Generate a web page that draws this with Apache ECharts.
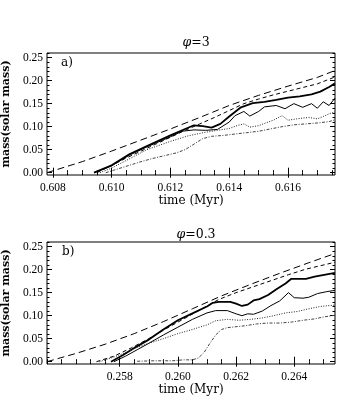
<!DOCTYPE html>
<html>
<head>
<meta charset="utf-8">
<script src="https://cdn.jsdelivr.net/npm/echarts@6/dist/echarts.min.js"></script>
<style>
  html, body { margin: 0; padding: 0; background: #fff; }
  #chart { width: 347px; height: 410px; }
</style>
</head>
<body>
<div id="chart"></div>
<script>
// panel a) phi=3 : [time (Myr), mass (solar mass)]
const aDashUpper = [[0.6078,0.000],[0.6090,0.024],[0.6100,0.047],[0.6110,0.071],[0.6120,0.095],[0.6130,0.120],[0.6140,0.146],[0.6150,0.168],[0.6160,0.188],[0.6170,0.207],[0.6176,0.222]];
const aDashLower = [[0.6095,0.000],[0.6100,0.016],[0.6105,0.032],[0.6110,0.047],[0.6115,0.062],[0.6120,0.077],[0.6125,0.092],[0.6130,0.106],[0.6135,0.120],[0.6140,0.135],[0.6145,0.150],[0.6150,0.160],[0.6155,0.169],[0.6160,0.177],[0.6165,0.185],[0.6170,0.193],[0.6176,0.208]];
const aSolidThick = [[0.6094,0.000],[0.6100,0.016],[0.6106,0.040],[0.6112,0.058],[0.6120,0.081],[0.6125,0.095],[0.6128,0.103],[0.6131,0.101],[0.6134,0.098],[0.6137,0.106],[0.6140,0.122],[0.6144,0.142],[0.6148,0.151],[0.6152,0.154],[0.6156,0.158],[0.6160,0.163],[0.6164,0.166],[0.6168,0.170],[0.6171,0.176],[0.6174,0.186],[0.6176,0.194]];
const aSolidThin = [[0.6094,0.000],[0.6100,0.015],[0.6106,0.038],[0.6112,0.056],[0.6120,0.078],[0.6124,0.090],[0.6128,0.093],[0.6132,0.092],[0.6136,0.094],[0.6140,0.110],[0.6142,0.124],[0.6145,0.133],[0.6147,0.123],[0.6150,0.133],[0.6152,0.143],[0.6156,0.146],[0.6159,0.139],[0.6162,0.150],[0.6165,0.142],[0.6168,0.150],[0.6170,0.140],[0.6172,0.154],[0.6174,0.146],[0.6176,0.162]];
const aDotUpper = [[0.6096,0.000],[0.6100,0.010],[0.6106,0.030],[0.6112,0.050],[0.6120,0.068],[0.6126,0.080],[0.6132,0.088],[0.6136,0.092],[0.6140,0.096],[0.6143,0.103],[0.6145,0.106],[0.6147,0.099],[0.6150,0.102],[0.6152,0.107],[0.6155,0.114],[0.6158,0.124],[0.6160,0.114],[0.6163,0.117],[0.6167,0.120],[0.6170,0.117],[0.6172,0.122],[0.6174,0.128],[0.6176,0.132]];
const aDotLower = [[0.6098,0.000],[0.6102,0.008],[0.6106,0.016],[0.6110,0.024],[0.6114,0.031],[0.6118,0.037],[0.6122,0.043],[0.6125,0.050],[0.6128,0.062],[0.6131,0.074],[0.6134,0.079],[0.6138,0.081],[0.6142,0.084],[0.6146,0.087],[0.6150,0.090],[0.6154,0.095],[0.6158,0.100],[0.6162,0.104],[0.6166,0.106],[0.6170,0.108],[0.6174,0.111],[0.6176,0.115]];

// panel b) phi=0.3
const bDashUpper = [[0.2555,0.000],[0.2565,0.018],[0.2575,0.038],[0.2585,0.061],[0.2595,0.087],[0.2605,0.115],[0.2615,0.143],[0.2625,0.168],[0.2635,0.192],[0.2645,0.215],[0.2654,0.235]];
const bDashLower = [[0.2572,0.000],[0.2578,0.012],[0.2584,0.030],[0.2590,0.050],[0.2596,0.072],[0.2602,0.093],[0.2608,0.114],[0.2614,0.135],[0.2620,0.150],[0.2626,0.163],[0.2632,0.176],[0.2638,0.189],[0.2644,0.201],[0.2654,0.216]];
const bSolidThick = [[0.2577,0.000],[0.2581,0.014],[0.2585,0.030],[0.2590,0.048],[0.2595,0.070],[0.2600,0.090],[0.2605,0.105],[0.2610,0.120],[0.2612,0.128],[0.2614,0.130],[0.2618,0.130],[0.2620,0.126],[0.2622,0.121],[0.2624,0.124],[0.2626,0.133],[0.2628,0.136],[0.2631,0.145],[0.2634,0.158],[0.2637,0.170],[0.2639,0.180],[0.2642,0.180],[0.2644,0.180],[0.2647,0.185],[0.2654,0.193]];
const bSolidThin = [[0.2578,0.000],[0.2582,0.012],[0.2586,0.026],[0.2590,0.040],[0.2595,0.058],[0.2600,0.075],[0.2605,0.092],[0.2610,0.106],[0.2613,0.111],[0.2617,0.111],[0.2620,0.104],[0.2622,0.100],[0.2624,0.104],[0.2626,0.103],[0.2629,0.110],[0.2632,0.122],[0.2635,0.132],[0.2638,0.150],[0.2640,0.139],[0.2643,0.138],[0.2645,0.140],[0.2648,0.148],[0.2651,0.152],[0.2654,0.155]];
const bDotUpper = [[0.2573,0.000],[0.2578,0.010],[0.2582,0.020],[0.2586,0.031],[0.2590,0.040],[0.2595,0.050],[0.2600,0.061],[0.2605,0.070],[0.2610,0.080],[0.2613,0.089],[0.2617,0.092],[0.2621,0.090],[0.2625,0.092],[0.2629,0.095],[0.2633,0.100],[0.2637,0.106],[0.2641,0.109],[0.2645,0.115],[0.2649,0.120],[0.2654,0.123]];
const bDotLower = [[0.2586,0.001],[0.2592,0.002],[0.2598,0.002],[0.2602,0.004],[0.2605,0.004],[0.2607,0.008],[0.2609,0.020],[0.2611,0.040],[0.2613,0.058],[0.2615,0.070],[0.2617,0.074],[0.2620,0.076],[0.2623,0.078],[0.2627,0.082],[0.2631,0.084],[0.2635,0.084],[0.2639,0.086],[0.2643,0.090],[0.2647,0.093],[0.2650,0.097],[0.2654,0.101]];

// tick labels
const aTimeTicks = [0.608, 0.610, 0.612, 0.614, 0.616];
const bTimeTicks = [0.258, 0.260, 0.262, 0.264];
const massTicks = [0.00, 0.05, 0.10, 0.15, 0.20, 0.25];

const FONT = 'Liberation Serif';
const WIDE = 'DejaVu Serif';
const AX = { a: [0.6078, 0.6176], b: [0.2555, 0.2654] };
const MASS = [-0.005, 0.26];

// minor tick positions between min and max
function minorTicks(min, max, step) {
  const out = [];
  for (let k = Math.ceil(min / step - 1e-6); k <= Math.floor(max / step + 1e-6); k++) {
    out.push(+(k * step).toFixed(6));
  }
  return out;
}

function xAxes(g, range, major, name) {
  const minor = minorTicks(range[0], range[1], 0.0005);
  const base = { gridIndex: g, type: 'value', min: range[0], max: range[1],
    axisLine: { show: false }, splitLine: { show: false } };
  return [
    Object.assign({}, base, {
      position: 'bottom', name: name, nameLocation: 'middle', nameGap: 18,
      nameTextStyle: { fontFamily: WIDE, fontSize: 12, color: '#000' },
      axisTick: { inside: true, length: 5, customValues: major, lineStyle: { color: '#000' } },
      axisLabel: { customValues: major, formatter: v => v.toFixed(3), margin: 7,
        fontFamily: FONT, fontSize: 11.5, color: '#000' }
    }),
    Object.assign({}, base, { position: 'bottom', axisLabel: { show: false },
      axisTick: { inside: true, length: 2.5, customValues: minor, lineStyle: { color: '#000' } } }),
    Object.assign({}, base, { position: 'top', axisLabel: { show: false },
      axisTick: { inside: true, length: 5, customValues: major, lineStyle: { color: '#000' } } }),
    Object.assign({}, base, { position: 'top', axisLabel: { show: false },
      axisTick: { inside: true, length: 2.5, customValues: minor, lineStyle: { color: '#000' } } })
  ];
}

function yAxes(g) {
  const minor = minorTicks(MASS[0], MASS[1], 0.01);
  const base = { gridIndex: g, type: 'value', min: MASS[0], max: MASS[1],
    axisLine: { show: false }, splitLine: { show: false } };
  return [
    Object.assign({}, base, {
      position: 'left', name: 'mass(solar mass)', nameLocation: 'middle', nameGap: 34,
      nameTextStyle: { fontFamily: WIDE, fontSize: 11, fontWeight: 'bold', color: '#000' },
      axisTick: { inside: true, length: 5, customValues: massTicks, lineStyle: { color: '#000' } },
      axisLabel: { customValues: massTicks, formatter: v => v.toFixed(2), margin: 4,
        fontFamily: FONT, fontSize: 11.5, color: '#000' }
    }),
    Object.assign({}, base, { position: 'left', axisLabel: { show: false },
      axisTick: { inside: true, length: 2.5, customValues: minor, lineStyle: { color: '#000' } } }),
    Object.assign({}, base, { position: 'right', axisLabel: { show: false },
      axisTick: { inside: true, length: 5, customValues: massTicks, lineStyle: { color: '#000' } } }),
    Object.assign({}, base, { position: 'right', axisLabel: { show: false },
      axisTick: { inside: true, length: 2.5, customValues: minor, lineStyle: { color: '#000' } } })
  ];
}

// line styles: thick solid, thin solid, two dashed, two dotted
const styles = {
  dashUpper: { color: '#000', width: 1, type: [7, 4] },
  dashLower: { color: '#000', width: 1, type: [4, 3] },
  solidThick: { color: '#000', width: 1.8, type: 'solid' },
  solidThin: { color: '#000', width: 1, type: 'solid' },
  dotUpper: { color: '#222', width: 1, type: [1, 1.5] },
  dotLower: { color: '#444', width: 1, type: [3, 1.5, 1, 1.5] }
};

function panelSeries(g, sets) {
  return Object.keys(sets).map(k => ({
    type: 'line', xAxisIndex: g * 4, yAxisIndex: g * 4, data: sets[k],
    showSymbol: false, silent: true, lineStyle: styles[k]
  }));
}

const titleStyle = {
  fontFamily: WIDE, fontSize: 12.5, fontWeight: 'normal', color: '#000',
  rich: { i: { fontFamily: WIDE, fontSize: 12.5, fontStyle: 'italic', color: '#000' } }
};

const chart = echarts.init(document.getElementById('chart'));
chart.setOption({
  animation: false,
  backgroundColor: '#fff',
  title: [
    { text: '{i|φ}=3', left: 191, top: 31, textAlign: 'center', textStyle: titleStyle },
    { text: '{i|φ}=0.3', left: 191, top: 223, textAlign: 'center', textStyle: titleStyle }
  ],
  graphic: [
    { type: 'text', left: 61, top: 57, style: { text: 'a)', font: '12px "DejaVu Serif"', fill: '#000' } },
    { type: 'text', left: 62, top: 246, style: { text: 'b)', font: '12px "DejaVu Serif"', fill: '#000' } }
  ],
  grid: [
    { left: 47, top: 53, width: 288, height: 122, show: true, borderColor: '#000', borderWidth: 1,
      containLabel: false, outerBoundsMode: 'none' },
    { left: 47, top: 242, width: 288, height: 122, show: true, borderColor: '#000', borderWidth: 1,
      containLabel: false, outerBoundsMode: 'none' }
  ],
  xAxis: [].concat(xAxes(0, AX.a, aTimeTicks, 'time (Myr)'), xAxes(1, AX.b, bTimeTicks, 'time (Myr)')),
  yAxis: [].concat(yAxes(0), yAxes(1)),
  series: [].concat(
    panelSeries(0, { dashUpper: aDashUpper, dashLower: aDashLower, solidThick: aSolidThick,
      solidThin: aSolidThin, dotUpper: aDotUpper, dotLower: aDotLower }),
    panelSeries(1, { dashUpper: bDashUpper, dashLower: bDashLower, solidThick: bSolidThick,
      solidThin: bSolidThin, dotUpper: bDotUpper, dotLower: bDotLower })
  )
});
</script>
</body>
</html>
